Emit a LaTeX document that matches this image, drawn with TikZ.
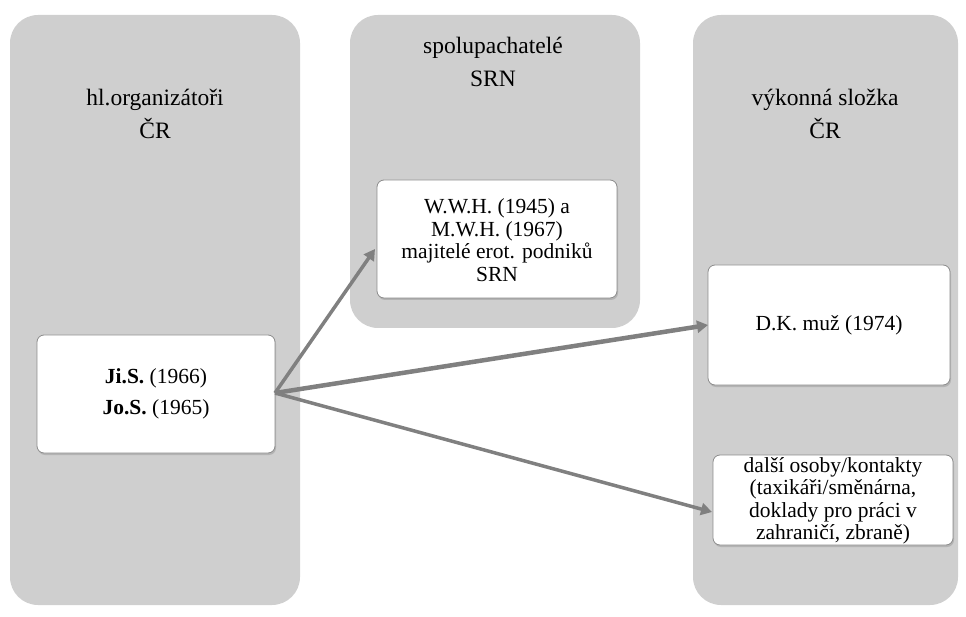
\documentclass[tikz,border=0pt]{standalone}
\usepackage{fontspec}
\setmainfont{Liberation Serif}
\usetikzlibrary{arrows.meta,shadows}
\definecolor{panelgray}{HTML}{CFCFCF}
\definecolor{arrowgray}{HTML}{808080}
\begin{document}
\begin{tikzpicture}[x=1pt,y=-1pt,
  panel/.style={fill=panelgray,draw=none,rounded corners=28pt},
  card/.style={fill=white,draw=black!45,line width=0.8pt,rounded corners=7pt,
    drop shadow={shadow xshift=1pt,shadow yshift=-2pt,opacity=0.35}},
  ttl/.style={font=\fontsize{23.5}{33}\selectfont,align=center,inner sep=0pt},
  txt/.style={font=\fontsize{21.5}{22.5}\selectfont,align=center,inner sep=0pt},
  conn/.style={draw=arrowgray,line width=3.5pt,-{Triangle[length=11pt,width=12pt]}}]
\useasboundingbox (0,0) rectangle (966,617);
% panels
\fill[panel] (10,15) rectangle (300,605);
\fill[panel] (350,15) rectangle (640,328);
\fill[panel] (693,15) rectangle (958,605);
% titles
\node[ttl] (t1) at (155,114) {hl.organizátoři\\ČR};
\node[ttl] (t2) at (493,62) {spolupachatelé\\SRN};
\node[ttl] (t3) at (825,114) {výkonná složka\\ČR};
% cards
\path[card] (37,335) rectangle (275,453);
\node[txt] (a) at (156,394) {\textbf{Ji.S.} (1966)\\[9pt]\textbf{Jo.S.} (1965)};
\coordinate (aE) at (275,393);
\path[card] (377,180) rectangle (617,298);
\node[txt] (b) at (497,240) {W.W.H. (1945) a\\M.W.H. (1967)\\majitelé erot. podniků\\SRN};
\coordinate (bW) at (375,249);
\path[card] (708,265) rectangle (950,385);
\node[txt] (c) at (829,325) {D.K. muž (1974)};
\coordinate (cW) at (708,325);
\path[card] (713,455) rectangle (953,545);
\node[txt] (d) at (833,501) {další osoby/kontakty\\(taxikáři/směnárna,\\doklady pro práci v\\zahraničí, zbraně)};
\coordinate (dW) at (712,512);
% connectors
\draw[conn] (aE) -- (bW);
\draw[conn,line width=4.5pt] (aE) -- (cW);
\draw[conn] (aE) -- (dW);
\end{tikzpicture}
\end{document}
